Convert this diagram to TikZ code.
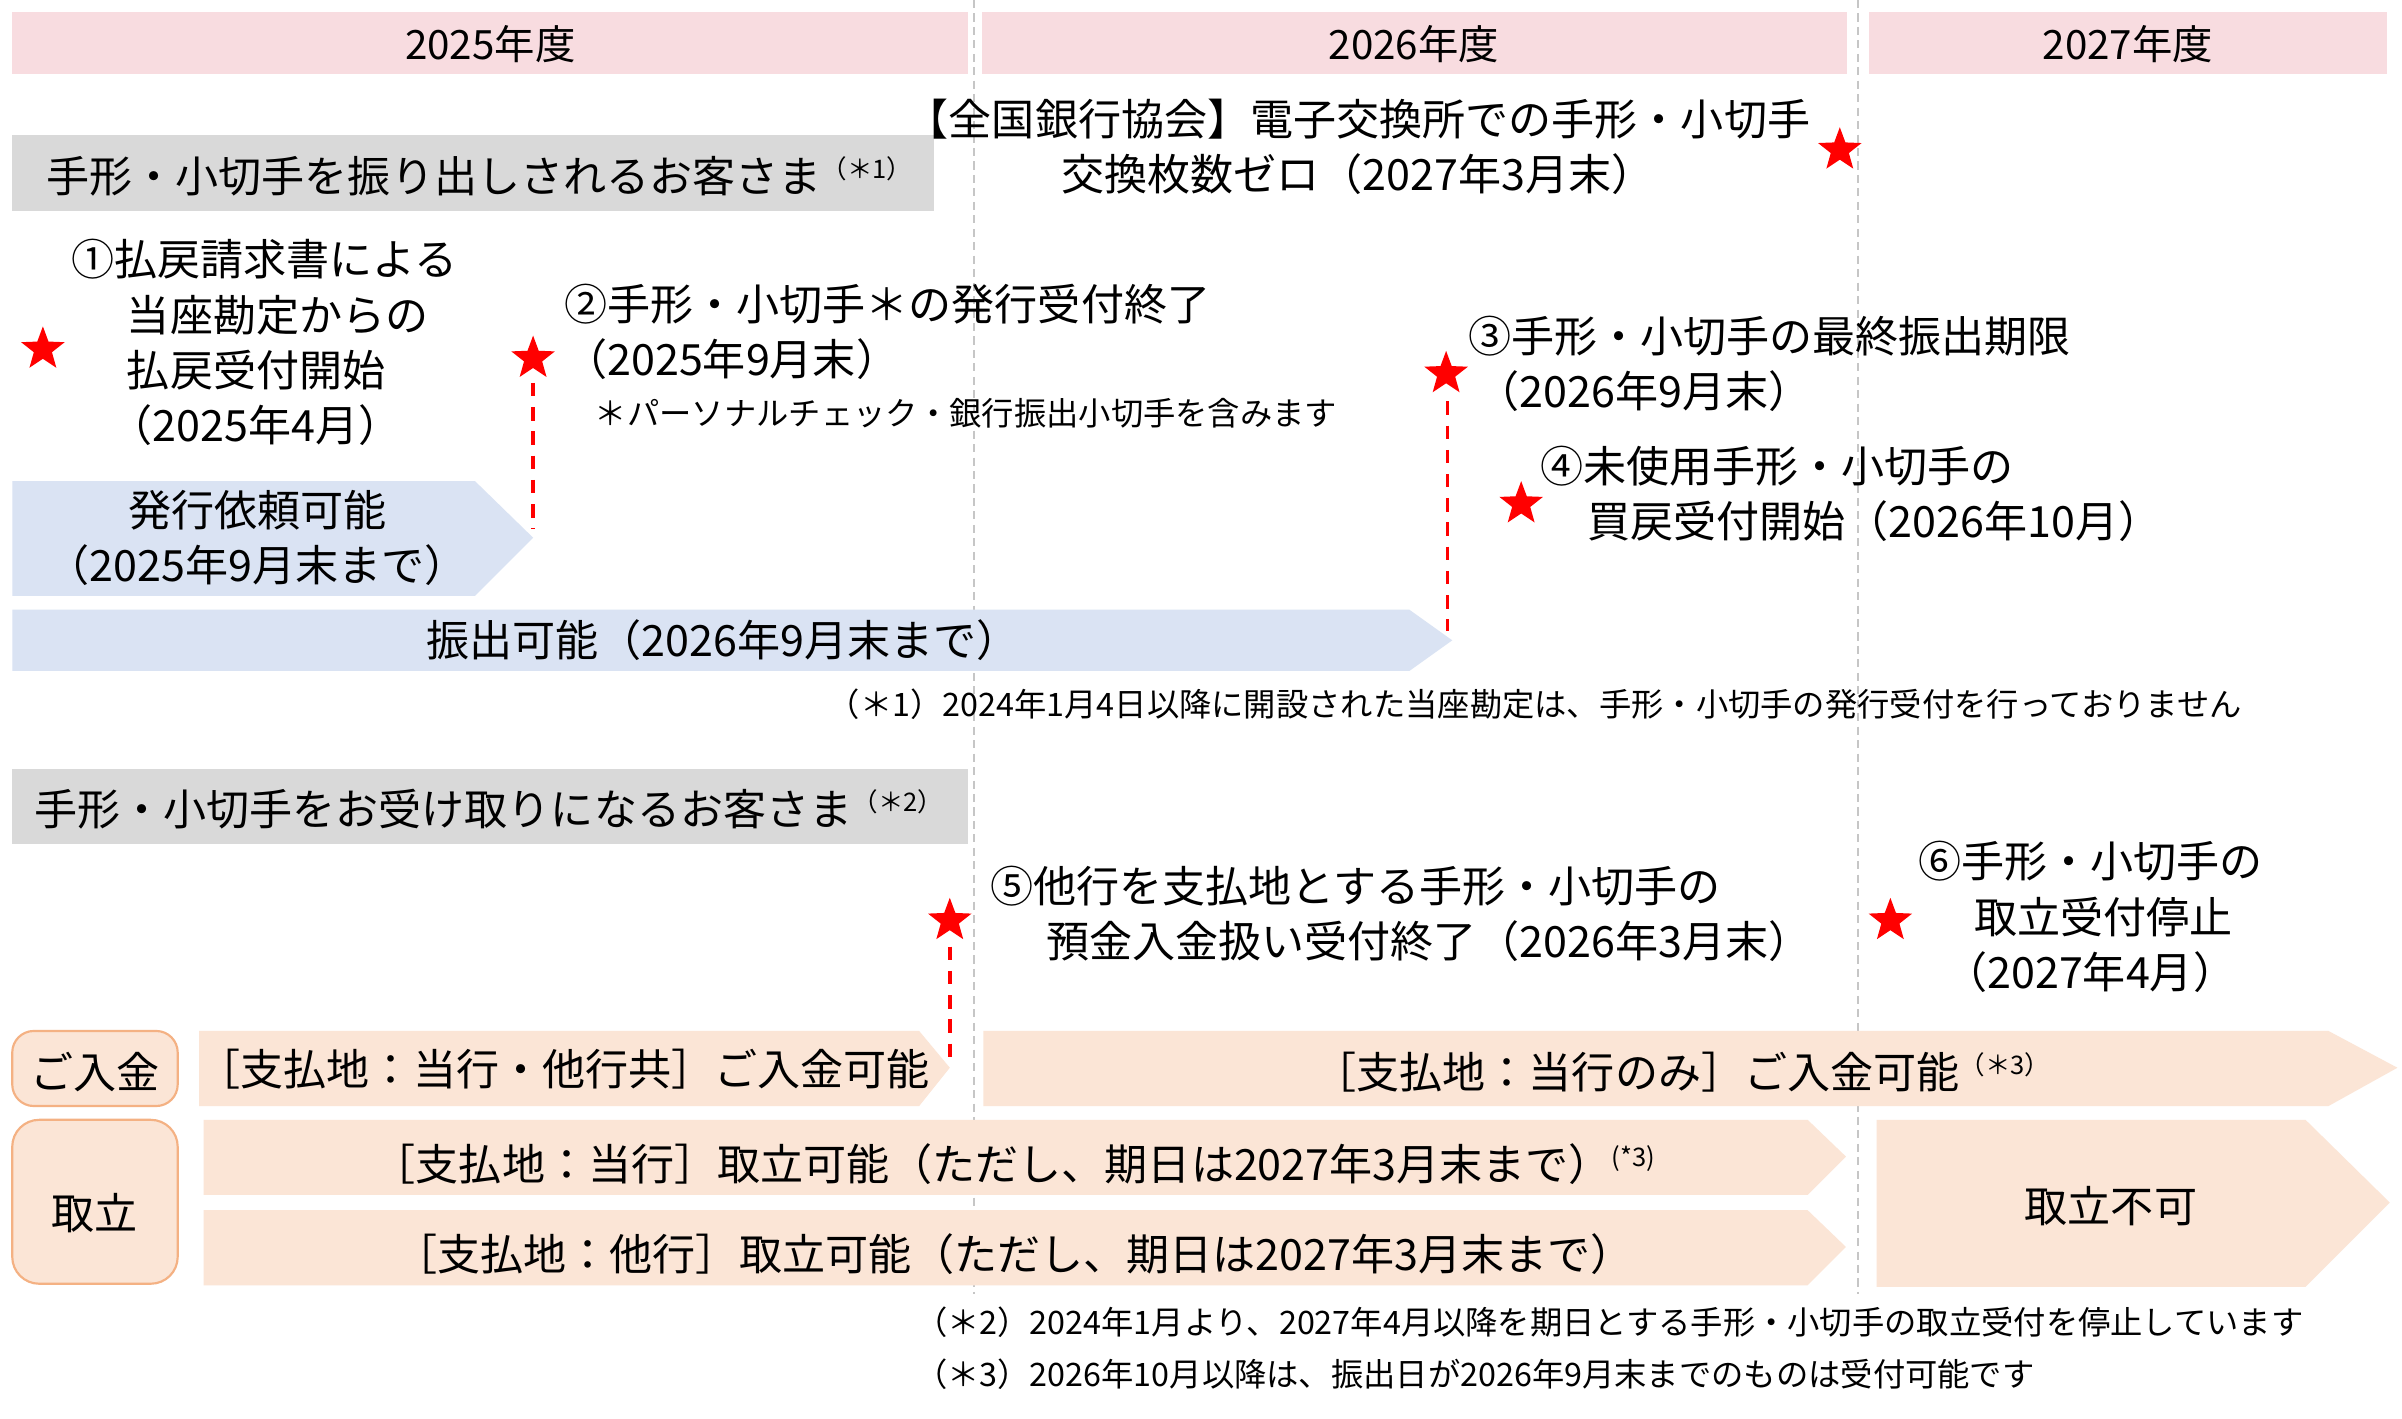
\documentclass[tikz,border=0pt]{standalone}
\usepackage{fontspec}
\setmainfont{Noto Sans CJK JP}
\usetikzlibrary{shapes.geometric}
\definecolor{pinkb}{HTML}{F8DCE0}
\definecolor{grayb}{HTML}{D9D9D9}
\definecolor{blueb}{HTML}{DAE3F3}
\definecolor{peach}{HTML}{FBE5D6}
\definecolor{orng}{HTML}{F4B183}
\tikzset{
 hdr/.style={font=\fontsize{15pt}{16pt}\selectfont,inner sep=0pt},
 txt/.style={font=\fontsize{16pt}{20.5pt}\selectfont,align=left,inner sep=0pt},
 sm/.style={font=\fontsize{12pt}{13pt}\selectfont,inner sep=0pt},
 mystar/.style={star,star points=5,star point ratio=2.4,fill=red,draw=none,minimum size=17pt,inner sep=0pt},
 rdash/.style={red,line width=1.3pt,dash pattern=on 5pt off 4pt},
 gdash/.style={gray!45,line width=0.6pt,dash pattern=on 3pt off 2pt},
}
\newcommand{\mysup}[1]{\raisebox{0.6ex}{\fontsize{9.5pt}{10pt}\selectfont #1}}
\begin{document}
\begin{tikzpicture}[x=0.02cm,y=-0.02cm]
\useasboundingbox (0,0) rectangle (1568,926);
\fill[white] (0,0) rectangle (1568,926);
% headers
\fill[pinkb] (8,8) rectangle (632,48);
\fill[pinkb] (641,8) rectangle (1206,48);
\fill[pinkb] (1220,8) rectangle (1558,48);
\node[hdr] (h1) at (320,29) {2025年度};
\node[hdr] (h2) at (923,29) {2026年度};
\node[hdr] (h3) at (1389,29) {2027年度};
% vertical dashed
\coordinate (v1a) at (636,0); \coordinate (v1b) at (636,845);
\coordinate (v2a) at (1213,0); \coordinate (v2b) at (1213,845);
\draw[gdash] (v1a)--(v1b);
\draw[gdash] (v2a)--(v2b);
% gray bars
\fill[grayb] (8,88) rectangle (610,138);
\node[txt,anchor=west] (g1) at (30,115) {手形・小切手を振り出しされるお客さま\mysup{（＊1）}};
\fill[grayb] (8,502) rectangle (632,551);
\node[txt,anchor=west] (g2) at (22,528) {手形・小切手をお受け取りになるお客さま\mysup{（＊2）}};
% top texts
\node[txt,anchor=north east,align=center] (t0) at (1182,64) {【全国銀行協会】電子交換所での手形・小切手\\交換枚数ゼロ（2027年3月末）};
\node[mystar] (s0) at (1201,98) {};
\node[txt,anchor=north west] (t1) at (46,156) {①払戻請求書による\\\hspace*{1.3em}当座勘定からの\\\hspace*{1.3em}払戻受付開始\\\hspace*{0.9em}（2025年4月）};
\node[mystar] (s1) at (28,228) {};
\node[txt,anchor=north west] (t2) at (368,185) {②手形・小切手＊の発行受付終了\\（2025年9月末）};
\node[sm,anchor=west] (t2b) at (388,270) {＊パーソナルチェック・銀行振出小切手を含みます};
\node[mystar] (s2) at (348,234) {};
\node[txt,anchor=north west] (t3) at (958,206) {③手形・小切手の最終振出期限\\\hspace*{0.2em}（2026年9月末）};
\node[mystar] (s3) at (944,244) {};
\node[txt,anchor=north west] (t4) at (1005,291) {④未使用手形・小切手の\\\hspace*{1.1em}買戻受付開始（2026年10月）};
\node[mystar] (s4) at (993,329) {};
% blue arrows
\fill[blueb] (8,314) -- (310,314) -- (348,351) -- (310,389) -- (8,389) -- cycle;
\node[txt,align=center] (b1) at (168,351) {発行依頼可能\\（2025年9月末まで）};
\fill[blueb] (8,398) -- (920,398) -- (948,418) -- (920,438) -- (8,438) -- cycle;
\node[txt] (b2) at (472,418) {振出可能（2026年9月末まで）};
\coordinate (d2a) at (348,250); \coordinate (d2b) at (348,345);
\draw[rdash] (d2a)--(d2b);
\coordinate (d3a) at (945,262); \coordinate (d3b) at (945,412);
\draw[rdash] (d3a)--(d3b);
\node[sm,anchor=west] (n1) at (540,460) {（＊1）2024年1月4日以降に開設された当座勘定は、手形・小切手の発行受付を行っておりません};
% lower
\node[txt,anchor=north west] (t5) at (646,565) {⑤他行を支払地とする手形・小切手の\\\hspace*{1.3em}預金入金扱い受付終了（2026年3月末）};
\node[mystar] (s5) at (620,601) {};
\coordinate (d5a) at (620,618); \coordinate (d5b) at (620,690);
\draw[rdash] (d5a)--(d5b);
\node[txt,anchor=north west] (t6) at (1252,549) {⑥手形・小切手の\\\hspace*{1.3em}取立受付停止\\\hspace*{0.6em}（2027年4月）};
\node[mystar] (s6) at (1234,601) {};
% peach
\draw[fill=peach,draw=orng,rounded corners=8pt,line width=0.8pt] (8,673) rectangle (116,722);
\node[txt] (k1) at (62,700) {ご入金};
\draw[fill=peach,draw=orng,rounded corners=10pt,line width=0.8pt] (8,731) rectangle (116,838);
\node[txt] (k2) at (62,792) {取立};
\fill[peach] (130,673) -- (600,673) -- (620,697) -- (600,722) -- (130,722) -- cycle;
\node[txt] (p1) at (368,698) {［支払地：当行・他行共］ご入金可能};
\fill[peach] (642,673) -- (1520,673) -- (1565,697) -- (1520,722) -- (642,722) -- cycle;
\node[txt] (p2) at (1098,700) {［支払地：当行のみ］ご入金可能\mysup{（＊3）}};
\fill[peach] (133,731) -- (1180,731) -- (1205,755) -- (1180,780) -- (133,780) -- cycle;
\node[txt] (p3) at (662,760) {［支払地：当行］取立可能（ただし、期日は2027年3月末まで）\mysup{(*3)}};
\fill[peach] (133,790) -- (1180,790) -- (1205,814) -- (1180,839) -- (133,839) -- cycle;
\node[txt] (p4) at (662,819) {［支払地：他行］取立可能（ただし、期日は2027年3月末まで）};
\fill[peach] (1225,731) -- (1505,731) -- (1560,785) -- (1505,840) -- (1225,840) -- cycle;
\node[txt] (p5) at (1378,787) {取立不可};
\node[sm,anchor=west] (n2) at (597,863) {（＊2）2024年1月より、2027年4月以降を期日とする手形・小切手の取立受付を停止しています};
\node[sm,anchor=west] (n3) at (597,897) {（＊3）2026年10月以降は、振出日が2026年9月末までのものは受付可能です};
\end{tikzpicture}
\end{document}
